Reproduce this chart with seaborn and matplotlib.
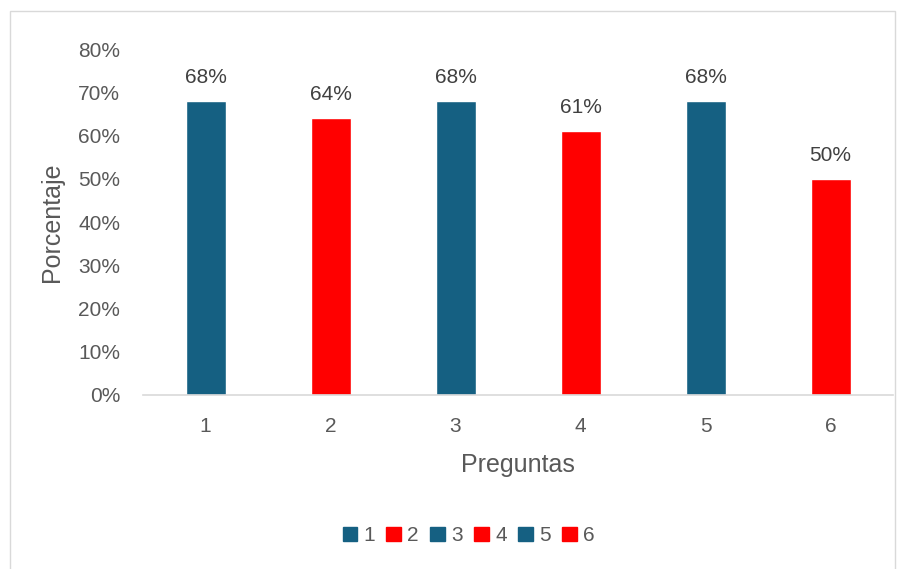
import matplotlib.pyplot as plt
import matplotlib.patches as mpatches
import pandas as pd
import seaborn as sns
from matplotlib.ticker import PercentFormatter

preguntas = ["1", "2", "3", "4", "5", "6"]
porcentajes = [68, 64, 68, 61, 68, 50]
colores = ["#156082", "#FF0000", "#156082", "#FF0000", "#156082", "#FF0000"]

df = pd.DataFrame({"Preguntas": preguntas, "Porcentaje": porcentajes})

sns.set_theme(style="white")
plt.rcParams["font.family"] = ["Liberation Sans", "DejaVu Sans"]
text_color = "#595959"

fig = plt.figure(figsize=(9.08, 5.69), dpi=100)
ax = fig.add_axes([0.1575, 0.3058, 0.826, 0.608])

sns.barplot(
    data=df,
    x="Preguntas",
    y="Porcentaje",
    hue="Preguntas",
    palette=colores,
    saturation=1,
    dodge=False,
    width=0.32,
    legend=False,
    ax=ax,
)

for container in ax.containers:
    ax.bar_label(container, fmt="%.0f%%", padding=10, fontsize=15, color="#404040")

ax.set_ylim(0, 80)
ax.set_yticks(range(0, 81, 10))
ax.yaxis.set_major_formatter(PercentFormatter(decimals=0))
ax.set_xlabel("Preguntas", fontsize=18, color=text_color, labelpad=12)
ax.set_ylabel("Porcentaje", fontsize=18, color=text_color, labelpad=10)
ax.tick_params(axis="both", labelsize=15, colors=text_color, length=0)
ax.tick_params(axis="x", pad=16)
ax.tick_params(axis="y", pad=16.5)

for side in ["top", "right", "left"]:
    ax.spines[side].set_visible(False)
ax.spines["bottom"].set_color("#D9D9D9")
ax.spines["bottom"].set_linewidth(1.2)

handles = [mpatches.Patch(color=c, label=p) for p, c in zip(preguntas, colores)]
fig.legend(
    handles=handles,
    loc="center",
    bbox_to_anchor=(0.516, 0.058),
    ncol=6,
    frameon=False,
    fontsize=15,
    labelcolor=text_color,
    handlelength=0.7,
    handleheight=0.7,
    handletextpad=0.3,
    columnspacing=0.55,
)

border = mpatches.Rectangle(
    (10 / 908, -0.01), 885 / 908, 1 - 11 / 569 + 0.01,
    transform=fig.transFigure, fill=False, edgecolor="#D9D9D9", linewidth=1,
)
fig.patches.append(border)

fig.savefig("out.png", dpi=100)
